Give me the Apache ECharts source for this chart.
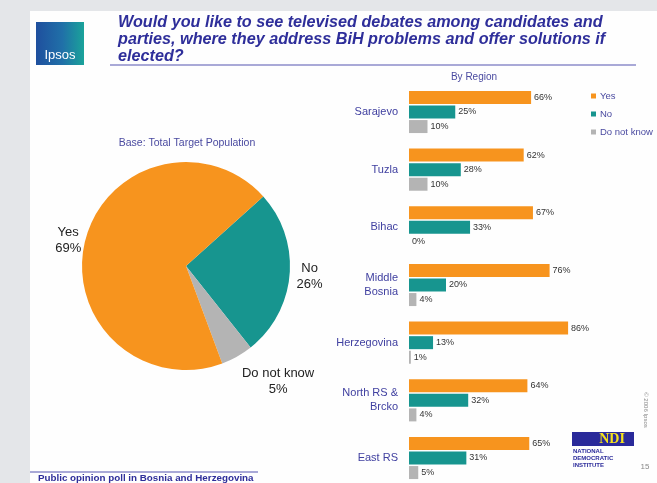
<!DOCTYPE html>
<html>
<head>
<meta charset="utf-8">
<script src="https://cdn.jsdelivr.net/npm/echarts@6/dist/echarts.min.js"></script>
<style>
html,body{margin:0;padding:0;background:#e4e6e9;}
#c{width:657px;height:483px;}
</style>
</head>
<body>
<div id="c"></div>
<script>
// ---- data ----
var regions = ['Sarajevo', 'Tuzla', 'Bihac', 'Middle\nBosnia', 'Herzegovina', 'North RS &\nBrcko', 'East RS'];
var yesValues = [66, 62, 67, 76, 86, 64, 65];
var noValues = [25, 28, 33, 20, 13, 32, 31];
var dnkValues = [10, 10, 0, 4, 1, 4, 5];
var answerNames = ['Yes', 'No', 'Do not know'];
var totalValues = [69, 26, 5];

var ORANGE = '#f7941e', TEAL = '#17958f', GRAY = '#b4b4b4';
var FONT = '"Liberation Sans", Arial, sans-serif';

var chart = echarts.init(document.getElementById('c'));

var pieData = [
  {name: answerNames[1], value: totalValues[1], itemStyle: {color: TEAL}},
  {name: answerNames[2], value: totalValues[2], itemStyle: {color: GRAY}},
  {name: answerNames[0], value: totalValues[0], itemStyle: {color: ORANGE}}
];
// label nudges for the pie (by data index: No, Do not know, Yes)
var pieLabelShift = [[-14, 1], [-12, 18], [17, 1]];

var barLabel = {show: true, position: 'right', distance: 3, formatter: '{c}%', fontSize: 9, color: '#333', fontFamily: FONT};

chart.setOption({
  animation: false,
  backgroundColor: 'transparent',
  textStyle: {fontFamily: FONT},
  graphic: [
    {type: 'rect', shape: {x: 30, y: 11, width: 627, height: 472}, style: {fill: '#fefefe'}, z: -10},
    // Ipsos logo
    {type: 'rect', shape: {x: 36, y: 22, width: 48, height: 43},
      style: {fill: new echarts.graphic.LinearGradient(0, 0, 1, 0, [{offset: 0, color: '#1f4f9e'}, {offset: 0.55, color: '#2070a8'}, {offset: 1, color: '#1aa39a'}])}},
    {type: 'text', style: {x: 60, y: 55, text: 'Ipsos', fill: '#fff', font: '13px ' + FONT, align: 'center', verticalAlign: 'middle'}},
    // title
    {type: 'text', style: {x: 118, y: 14, text: 'Would you like to see televised debates among candidates and\nparties, where they address BiH problems and offer solutions if\nelected?',
      fill: '#2e2e9a', font: 'italic bold 16.2px ' + FONT, lineHeight: 17}},
    {type: 'line', shape: {x1: 110, y1: 65, x2: 636, y2: 65}, style: {stroke: '#5555b0', lineWidth: 1}},
    {type: 'text', style: {x: 187, y: 143, text: 'Base: Total Target Population', fill: '#4a4aa0', font: '10.5px ' + FONT, align: 'center', verticalAlign: 'middle'}},
    {type: 'text', style: {x: 474, y: 77, text: 'By Region', fill: '#4a4aa0', font: '10px ' + FONT, align: 'center', verticalAlign: 'middle'}},
    // footer
    {type: 'line', shape: {x1: 30, y1: 472, x2: 258, y2: 472}, style: {stroke: '#5555b0', lineWidth: 1}},
    {type: 'text', style: {x: 38, y: 478, text: 'Public opinion poll in Bosnia and Herzegovina', fill: '#2e2e9a', font: 'bold 9.8px ' + FONT, verticalAlign: 'middle'}},
    // NDI logo
    {type: 'rect', shape: {x: 572, y: 432, width: 62, height: 14}, style: {fill: '#2a2a9a'}},
    {type: 'text', style: {x: 612, y: 439, text: 'NDI', fill: '#f5e21b', font: 'bold 14px "Liberation Serif", serif', align: 'center', verticalAlign: 'middle'}},
    {type: 'text', style: {x: 573, y: 448, text: 'NATIONAL\nDEMOCRATIC\nINSTITUTE', fill: '#2a2a9a', font: 'bold 6px ' + FONT, lineHeight: 7}},
    {type: 'text', style: {x: 645, y: 467, text: '15', fill: '#888', font: '8px ' + FONT, align: 'center', verticalAlign: 'middle'}},
    {type: 'text', rotation: -Math.PI / 2, x: 646, y: 410, style: {x: 0, y: 0, text: '© 2006 Ipsos', fill: '#888', font: '6px ' + FONT, align: 'center', verticalAlign: 'middle'}}
  ],
  legend: {
    orient: 'vertical', left: 586, top: 86,
    data: answerNames,
    icon: 'rect', itemWidth: 5, itemHeight: 5, itemGap: 8,
    textStyle: {fontSize: 9.5, color: '#4a4aa0', fontFamily: FONT, padding: [0, 0, 0, -1]}
  },
  grid: {left: 409, top: 112, width: 185, height: 346, containLabel: false},
  xAxis: {type: 'value', min: 0, max: 100, show: false},
  yAxis: {
    type: 'category', data: regions, inverse: true, boundaryGap: false,
    axisLine: {show: false}, axisTick: {show: false},
    axisLabel: {fontSize: 11, color: '#4040a0', margin: 11, lineHeight: 14, fontFamily: FONT}
  },
  series: [
    {type: 'bar', name: answerNames[0], data: yesValues, itemStyle: {color: ORANGE}, barWidth: 13, barGap: '12%', label: barLabel},
    {type: 'bar', name: answerNames[1], data: noValues, itemStyle: {color: TEAL}, barWidth: 13, barGap: '12%', label: barLabel},
    {type: 'bar', name: answerNames[2], data: dnkValues, itemStyle: {color: GRAY}, barWidth: 13, barGap: '12%', label: barLabel},
    {
      type: 'pie', center: [186, 266], radius: 104, startAngle: 42, clockwise: true,
      data: pieData, legendHoverLink: false,
      label: {show: true, position: 'outside', formatter: '{a|{b}}\n{a|{c}%}', color: '#222', fontFamily: FONT,
        rich: {a: {fontSize: 13, lineHeight: 16, align: 'center', color: '#222', fontFamily: FONT}}},
      labelLine: {show: false, length: 8, length2: 8},
      labelLayout: function (p) {
        var s = pieLabelShift[p.dataIndex];
        return {dx: s[0], dy: s[1]};
      }
    }
  ]
});
</script>
</body>
</html>
